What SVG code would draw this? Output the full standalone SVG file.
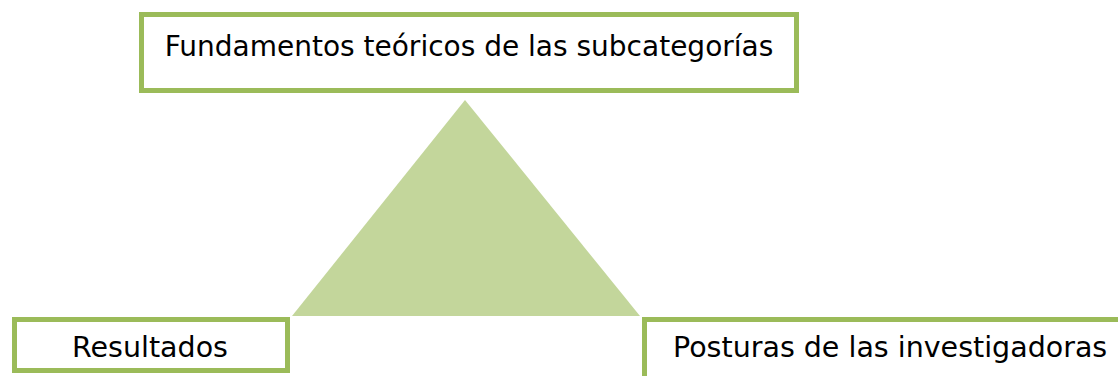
<svg xmlns="http://www.w3.org/2000/svg" width="1118" height="376" viewBox="0 0 1118 376">
<style>
.box{fill:#ffffff;stroke:#9bbb59;stroke-width:5}
.lbl{font-family:"DejaVu Sans",Verdana,sans-serif;font-size:28.5px;fill:#000000}
</style>
<rect width="1118" height="376" fill="#ffffff"/>
<g id="connectors">
<polygon points="465,100 292,316 640,316" fill="#c3d69b"/>
</g>
<g id="top">
<rect class="box" x="141.5" y="14.5" width="655" height="76"/>
<text class="lbl" x="469" y="56" text-anchor="middle" style="font-size:28px">Fundamentos teóricos de las subcategorías</text>
</g>
<g id="left">
<rect class="box" x="14.5" y="319.5" width="273" height="51"/>
<text class="lbl" x="150" y="357" text-anchor="middle">Resultados</text>
</g>
<g id="right">
<rect class="box" x="644.5" y="319.5" width="500" height="80"/>
<text class="lbl" x="673" y="357">Posturas de las investigadoras</text>
</g>
</svg>
